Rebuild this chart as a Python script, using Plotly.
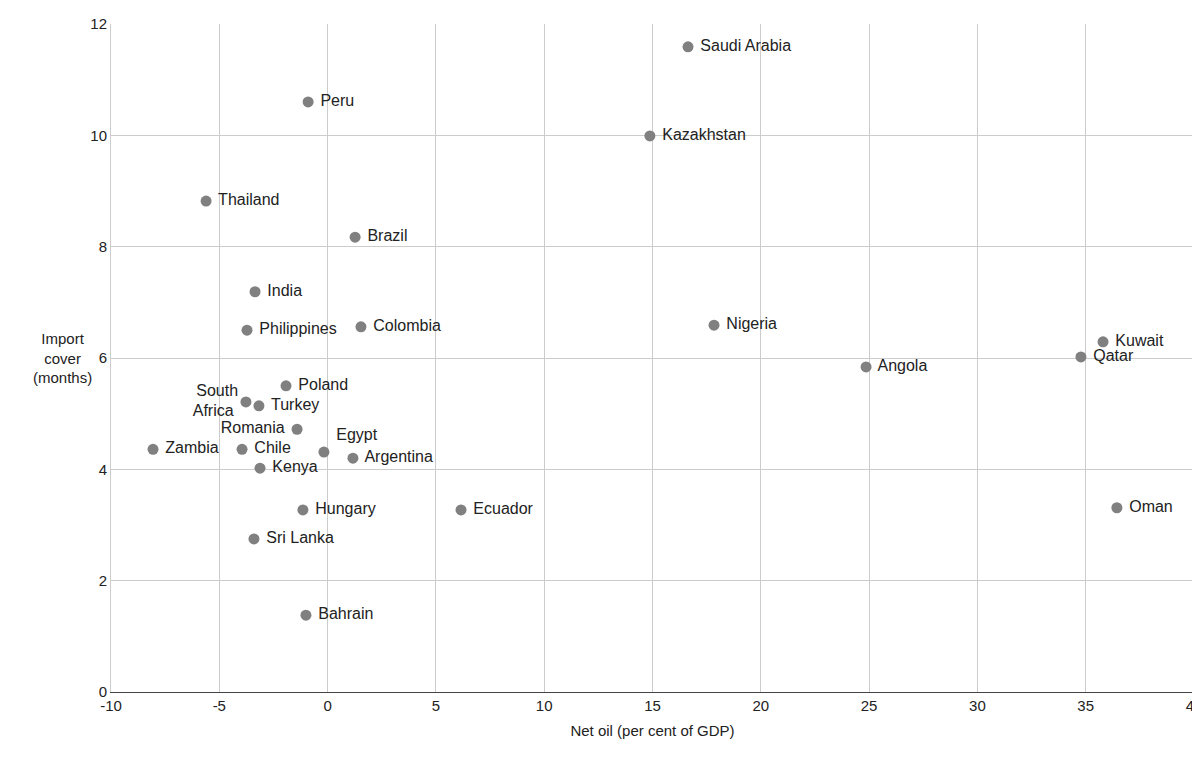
import plotly.graph_objects as go

countries = ["Saudi Arabia","Peru","Kazakhstan","Thailand","Brazil","India","Philippines","Colombia",
             "Nigeria","Kuwait","Qatar","Angola","Poland","South<br>Africa","Turkey","Romania","Egypt",
             "Argentina","Zambia","Chile","Kenya","Hungary","Ecuador","Oman","Sri Lanka","Bahrain"]
net_oil = [16.64,-0.9,14.88,-5.61,1.27,-3.35,-3.72,1.54,17.84,35.8,34.78,24.86,-1.92,-3.77,-3.17,
           -1.41,-0.17,1.17,-8.06,-3.95,-3.12,-1.14,6.16,36.44,-3.4,-1.0]
import_cover = [11.59,10.6,9.99,8.82,8.17,7.19,6.5,6.56,6.59,6.29,6.02,5.84,5.5,5.21,5.14,4.72,4.31,
                4.2,4.36,4.36,4.02,3.27,3.27,3.31,2.75,1.38]
x_ticks = [-10, -5, 0, 5, 10, 15, 20, 25, 30, 35, 40]
y_ticks = [0, 2, 4, 6, 8, 10, 12]

positions = ["middle right"]*len(countries)
positions[countries.index("South<br>Africa")] = "middle left"
positions[countries.index("Romania")] = "middle left"
positions[countries.index("Egypt")] = "top right"

fig = go.Figure(go.Scatter(
    x=net_oil, y=import_cover, mode="markers+text",
    text=[" "+c if "right" in p else c+" " for c, p in zip(countries, positions)],
    textposition=positions, marker=dict(color="#808080", size=11), cliponaxis=False,
    textfont=dict(size=16, color="#222"), hoverinfo="skip"))

fig.update_layout(
    width=1200, height=768, plot_bgcolor="white", paper_bgcolor="white",
    margin=dict(l=103, r=14, t=16, b=84, autoexpand=False), showlegend=False,
    font=dict(family="Liberation Sans, Arial", size=15, color="#222"),
    xaxis=dict(range=[-10, 40], tickvals=x_ticks, ticktext=[str(v) for v in x_ticks],
               showgrid=True, gridcolor="#cccccc", zeroline=False, automargin=False,
               showline=True, linecolor="#444", ticks="", tickfont=dict(size=15),
               title=dict(text="Net oil (per cent of GDP)", font=dict(size=15), standoff=12)),
    yaxis=dict(range=[0, 12], tickvals=y_ticks, showgrid=True, gridcolor="#cccccc", zeroline=False,
               automargin=False, showline=True, linecolor="#cccccc", tickfont=dict(size=15)),
    annotations=[dict(text="Import<br>cover<br>(months)", x=-0.045, y=0.5, xref="paper", yref="paper",
                      xanchor="center", yanchor="middle", showarrow=False, font=dict(size=15))])
fig.write_html("out.html")
